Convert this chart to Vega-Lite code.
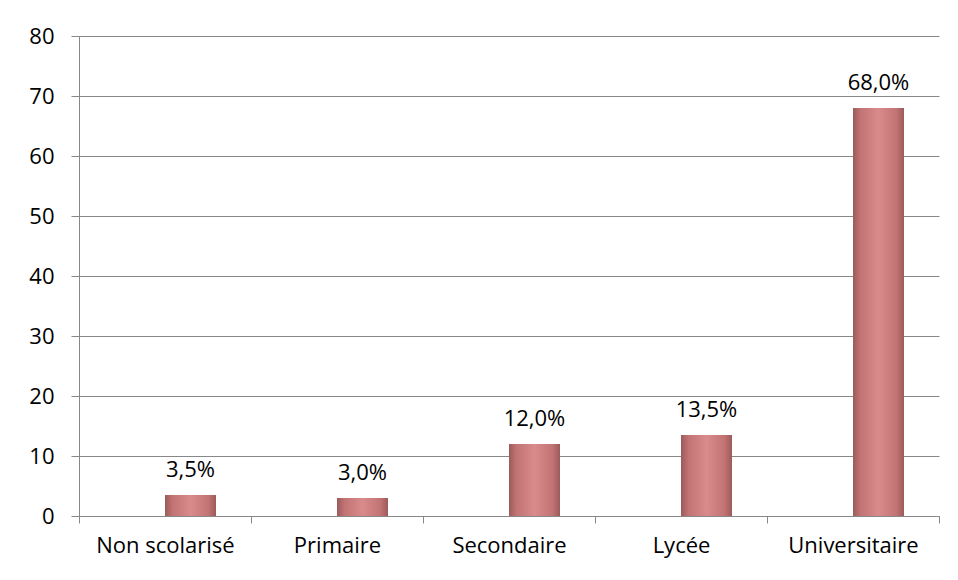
{
  "$schema": "https://vega.github.io/schema/vega-lite/v6.json",
  "autosize": "none",
  "width": 860,
  "height": 480,
  "padding": {"left": 79, "top": 36, "right": 19, "bottom": 64},
  "background": "white",
  "config": {"view": {"stroke": null}, "font": "Open Sans"},
  "data": {"values": [
    {"niveau": "Non scolarisé", "pct": 3.5, "label": "3,5%"},
    {"niveau": "Primaire", "pct": 3.0, "label": "3,0%"},
    {"niveau": "Secondaire", "pct": 12.0, "label": "12,0%"},
    {"niveau": "Lycée", "pct": 13.5, "label": "13,5%"},
    {"niveau": "Universitaire", "pct": 68.0, "label": "68,0%"}
  ]},
  "encoding": {
    "x": {"field": "niveau", "type": "nominal", "sort": null,
      "scale": {"paddingInner": 0, "paddingOuter": 0},
      "axis": {"title": null, "labelAngle": 0, "labelFontSize": 22, "labelColor": "#000000", "labelFont": "Open Sans",
        "domainColor": "#888888", "tickColor": "#888888", "tickBand": "extent", "tickSize": 7, "labelPadding": 12, "grid": false}},
    "y": {"field": "pct", "type": "quantitative",
      "scale": {"domain": [0, 80], "nice": false},
      "axis": {"title": null, "values": [0,10,20,30,40,50,60,70,80], "labelFontSize": 22, "labelColor": "#000000", "labelFont": "Open Sans",
        "domainColor": "#888888", "tickColor": "#888888", "tickSize": 8, "labelPadding": 17, "gridColor": "#888888", "gridWidth": 1}}
  },
  "layer": [
    {"mark": {"type": "bar", "width": 51, "xOffset": 25.5,
      "color": {"gradient": "linear", "x1": 0, "x2": 1, "y1": 0, "y2": 0,
        "stops": [
          {"offset": 0, "color": "#9c5a5a"},
          {"offset": 0.15, "color": "#c27474"},
          {"offset": 0.5, "color": "#d98a8a"},
          {"offset": 0.85, "color": "#c27474"},
          {"offset": 1, "color": "#9c5a5a"}
        ]}}},
    {"mark": {"type": "text", "xOffset": 25.5, "dy": -18, "baseline": "alphabetic", "fontSize": 22, "font": "Open Sans", "color": "#000000"},
      "encoding": {"text": {"field": "label"}}}
  ]
}
